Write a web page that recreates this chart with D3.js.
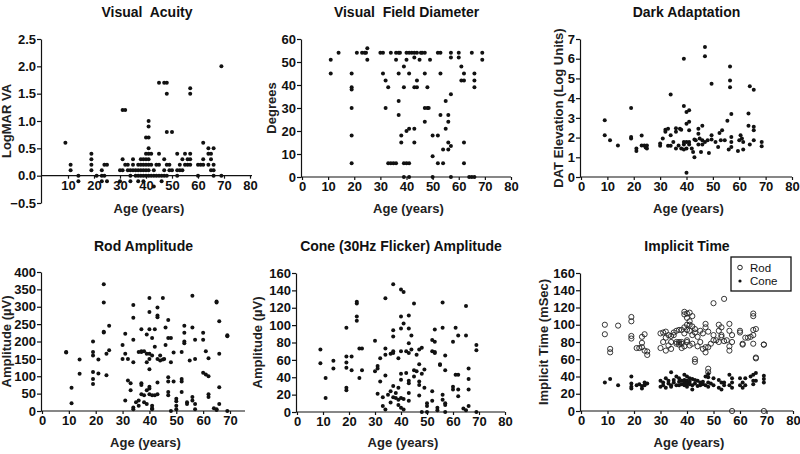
<!DOCTYPE html>
<html>
<head>
<meta charset="utf-8">
<script src="https://cdn.jsdelivr.net/npm/d3@7"></script>
<style>
  body { margin: 0; background: #fff; }
  svg { font-family: "Liberation Sans", Arial, sans-serif; }
  .tick text { font-size: 13px; font-weight: bold; fill: #111; }
  .domain, .tick line { stroke: #111; stroke-width: 1.2; }
  .title { font-size: 14px; font-weight: bold; fill: #111; white-space: pre; }
  .alabel { font-size: 13px; font-weight: bold; fill: #222; white-space: pre; }
</style>
</head>
<body>
<svg id="chart" width="800" height="454"></svg>
<script>
// --- data: [age, value] ---
var vaData = [[9,0.6],[11,0.2],[11,0.1],[14,0],[14,-0.1],
  [19,0.4],[19,0.3],[19,0.2],[19,0.1],[21,0],[23,0.1],[23,0],[23,-0.1],[24,0.2],[25,0.2],[25,-0.1],[24,0],
  [30,0.1],[30,-0.1],[31,0.3],[31,0.1],[31,1.2],[32,1.2],[32,0.2],[33,0.2],[33,0.1],[34,0.1],[34,0],[34,-0.1],
  [35,0.3],[35,0.2],[35,0.1],[36,0.1],[36,0],[37,0.2],[37,0.1],[37,0],[37,-0.1],[38,0.3],[38,0.2],[38,0.1],[38,0],
  [39,0.3],[39,0.2],[39,0.1],[39,0],[39,-0.1],[40,0.7],[40,0.4],[40,0.3],[40,0.2],[40,0.1],[40,0],
  [41,1.0],[41,0.9],[41,0.7],[41,0.5],[41,0.4],[41,0.3],[41,0.2],[41,0.1],[41,0],[42,0.4],[42,0.2],[42,0],
  [43,-0.2],[43,0],[43,0.1],[44,0.2],[44,0],[45,0.4],[45,1.7],[45,0.2],[45,0],[46,0],[46,-0.1],[47,1.7],[47,0.3],[47,0.1],[47,0],
  [48,1.7],[48,1.5],[48,0.8],[48,0.2],[48,0],[49,0.1],[49,0.2],[50,0.8],[50,0.1],[52,0.4],[52,0.1],[52,0],
  [53,0.1],[53,0.2],[54,0.3],[54,0.1],[55,0.4],[55,0.2],[56,0.3],[56,0.2],[57,1.6],[57,1.5],[57,0.4],[57,0.3],[57,0.2],
  [60,0.2],[60,0],[61,0.2],[62,0.6],[62,0.3],[62,0.2],[64,0.4],[64,0.5],[64,0.2],[65,0.4],[65,0.1],[65,0.3],
  [66,0.5],[66,0.2],[66,0.1],[66,0],[69,2.0],[69,0]];

var vfData = [[11,51],[11,45],[14,54],[19,45],[19,39],[19,38],[19,30],[19,18],[19,6],[21,54],[23,54],[24,54],[24.5,54],
  [25,56],[25,51],[30,54],[31,54],[31,45],[32,42],[32,30],[33,39],[33,6],[34,6],[34,54],[35,6],[36,51],[36,54],[36,6],
  [37,54],[37.5,54],[37,45],[37,33],[37,27],[38,18],[38,15],[39,48],[39,39],[39,6],[39,0],[40,54],[40,51],[40,20],[40,6],
  [41,54],[41,45],[41,21],[41,6],[41,0],[42,54],[43,54],[43,52],[43,39],[43,21],[43,15],[44,54],[44,42],[44,39],
  [45,51],[45.5,54],[46,54],[47,54],[47,45],[47,30],[47,24],[48,30],[48,39],[48.5,30],[49,51],[50,18],[50,9],[50,0],
  [52,18],[52,6],[52,54],[53,54],[53,45],[53,27],[54,12],[54,6],[55,33],[55,21],[56,12],[56,15],[56,27],[56,24],
  [57,13.5],[57,36],[57,54],[57,52],[57,0],[60,54],[60,52],[61,48],[61,42],[62,42],[62,45],[62,15],[62,6],
  [64,0],[65,0],[66,0],[65,54],[66,45],[66,42],[66,39],[69,54],[69,51]];

var daData = [[9,2.88],[9,2.12],[11,1.86],[14,1.6],[19,3.5],[19,2.03],[19,1.95],[23,2.1],[21,1.44],[21,1.32],
  [23,1.6],[24,1.6],[24.5,1.5],[25,1.6],[25,1.45],[30,1.7],[30,1.58],[31,1.95],[32,2.4],[32,2.3],[33,2.45],[33,1.58],
  [34,4.18],[34,2.12],[34,1.58],[35,1.78],[36,2.47],[36,2.3],[36,1.44],[37,1.6],[37.5,2.45],[38,2.4],[38,1.44],
  [39,6.0],[39,3.6],[39,1.65],[39,1.78],[39,1.4],[40,3.3],[40,2.7],[40,0.22],[40,1.44],[40,1.78],[41,3.38],[41,2.8],
  [41,1.65],[41,1.78],[41,2.37],[42,1.44],[42.5,1.27],[43,1.0],[43,1.9],[43.5,1.86],[44.5,2.45],[44.5,2.2],[44.5,1.65],
  [45,1.95],[45.5,1.27],[46,2.6],[46,1.86],[46,1.65],[47,6.6],[47,6.13],[47,1.78],[48,1.86],[48.5,1.22],[49.5,4.73],
  [49.5,2.12],[49.5,1.9],[51,1.78],[52,1.52],[52.5,2.23],[53,1.86],[53.5,2.37],[54.5,1.86],[55.5,2.85],[56,1.4],
  [56.5,5.6],[56.5,4.9],[56.5,4.55],[57,3.2],[57,2.03],[57,1.78],[57,1.52],[59.5,1.32],[60,1.86],[60.5,2.12],[61,1.95],
  [61.5,1.78],[61.5,1.4],[63.5,3.22],[63.5,2.6],[64,4.6],[64,1.65],[65.5,4.42],[65.5,2.55],[65.5,2.37],[65.5,1.86],
  [68.5,1.78],[68.5,1.56]];

var rodAmpData = [[9,170],[9,168],[11,67],[11,22],[14,148],[14,107],[19,200],[19,170],[19,160],[19,112],[19,92],[19,78],
  [21,148],[21,108],[23,365],[23,312],[23,228],[23,226],[24,165],[24,103],[25,245],[25,175],[30,190],[30,150],[31,222],
  [31,165],[31,30],[32,150],[32,88],[33,80],[33,60],[34,305],[34,268],[34,205],[34,140],[34,10],[34,5],[35,25],[36,30],
  [36,170],[36,15],[37,172],[37,170],[37,235],[37,80],[37,75],[37,48],[38,172],[38,45],[38,25],[39,220],[39,165],[39,140],
  [39,60],[39,20],[40,325],[40,285],[40,235],[40,165],[40,150],[40,120],[40,70],[40,65],[40,48],[41,210],[41,160],[41,45],
  [41,15],[41,8],[41,5],[42,235],[42,185],[42,45],[43,298],[43,275],[43,270],[43,150],[43,82],[43,48],[44,160],[44,145],
  [45,325],[45,148],[45.5,150],[46,240],[46,190],[47,262],[47,210],[47,97],[47,85],[47,55],[47,45],[48,210],[48,140],
  [48,0],[49,168],[49,85],[50,35],[50,28],[50,15],[50,5],[52,170],[52,92],[52,85],[52,55],[53,245],[53,225],[53,200],
  [53,195],[54,25],[54,20],[55,145],[56,332],[56,240],[56,40],[56,30],[57,205],[57,150],[57,20],[57,5],[60,225],[60,205],
  [60,110],[61,172],[61,105],[62,100],[62,152],[62,48],[62,40],[64,8],[65,315],[65,312],[65,5],[65,3],[66,258],[66,165],
  [66,68],[66,20],[69,218],[69,215],[69,0]];

var coneAmpData = [[9,72],[9,56],[11,39],[11,16],[14,59],[14,50],[19,97],[19,64],[19,57],[19,51],[19,28],[19,25],[21,64],
  [21,48],[23,127],[23,125],[23,110],[23,105],[24,73],[24,39],[25,73],[25,48],[30,82],[30,47],[31,53],[31,50],[31,21],
  [32,62],[32,35],[33,17],[33,7],[34,131],[34,73],[34,66],[34,42],[34,3],[35,20],[36,24],[36,67],[36,11],[37,147],[37,94],
  [37,87],[37,70],[37,68],[37,30],[37,17],[38,22],[38,16],[39,62],[39,28],[39,14],[39,8],[40,141],[40,110],[40,96],[40,70],
  [40,44],[40,37],[40,16],[40,5],[41,138],[41,102],[41,15],[41,3],[42,45],[42,70],[43,111],[43,96],[43,79],[43,68],[43,36],
  [43,33],[43,22],[43,13],[44,88],[44,72],[45,125],[45,48],[45,41],[46,47],[46,66],[47,72],[47,55],[47,35],[47,31],[47,19],
  [48,74],[48,44],[48,0],[49,49],[49,28],[50,10],[50,7],[50,0],[52,83],[52,70],[52,24],[52,13],[53,95],[53,81],[53,69],
  [53,68],[54,5],[54,2],[55,55],[55,54],[56,126],[56,97],[56,20],[56,14],[57,65],[57,48],[57,10],[57,8],[57,0],[60,81],
  [60,29],[60,26],[61,97],[61,43],[62,88],[62,43],[62,26],[62,18],[64,4],[65,122],[65,88],[65,2],[66,50],[66,38],[66,26],
  [66,7],[69,77],[69,71],[69,0]];

var rodTimeData = [[9,100],[9,89],[11,72],[11,68],[14,99],[19,109],[19,104],[19,87],[19,84],[21,73],[22,73],[23,79],[23,74],
  [23,86],[24,89],[24,70],[25,69],[25,65],[30,90],[30,73],[31,91],[31,80],[32,92],[32,70],[32,85],[33,88],[33,76],[34,87],
  [34,72],[34,80],[35,88],[35,91],[36,93],[36,78],[36,80],[37,94],[37,80],[37,77],[38,94],[38,80],[38,78],[38,73],[39,115],
  [39,112],[39,97],[39,90],[39,75],[40,113],[40,108],[40,100],[40,94],[40,82],[40,80],[41,114],[41,104],[41,100],[41,93],
  [41,76],[42,110],[42,98],[42,88],[42,78],[43,95],[43,91],[43,60],[43,57],[44,86],[44,75],[45,93],[45,80],[46,90],[46,72],
  [47,101],[47,97],[47,74],[47,68],[48,92],[48,74],[48,49],[48,45],[49,78],[50,125],[50,88],[50,82],[51,82],[52,93],
  [52,100],[52,80],[53,97],[53,88],[53,86],[54,130],[54,81],[55,82],[56,101],[56,93],[56,75],[56,70],[57,88],[57,80],
  [57,0],[60,93],[60,91],[61,78],[61,77],[62,85],[63,85],[64,86],[65,113],[65,110],[65,94],[65,88],[65,78],[66,95],
  [66,62],[66,61],[69,77],[69,77],[69,0]];

var coneTimeData = [[9,33],[11,37],[14,30],[19,40],[19,32],[19,28],[19,26],[21,30],[22,31],[23,29],[23,26],[24,33],[24,30],
  [25,32],[30,35],[30,28],[31,30],[31,33],[32,38],[32,27],[33,32],[33,35],[34,45],[34,30],[34,28],[35,36],[35,33],[36,40],
  [36,30],[37,38],[37,34],[37,30],[38,35],[38,31],[39,42],[39,36],[39,33],[39,30],[40,40],[40,35],[40,32],[40,28],[41,38],
  [41,34],[41,31],[42,37],[42,25],[42,30],[43,36],[43,32],[44,29],[44,35],[45,33],[45,30],[46,31],[46,34],[47,40],[47,30],
  [48,43],[48,39],[48,33],[48,28],[49,32],[50,38],[50,30],[52,36],[52,27],[53,33],[53,25],[54,33],[54,30],[56,42],[56,30],
  [57,38],[57,33],[57,27],[60,38],[60,30],[61,33],[61,27],[62,38],[62,30],[64,40],[65,42],[65,35],[65,31],[66,44],[66,35],
  [69,41],[69,37],[69,33]];

var titles = ["Visual  Acuity", "Visual  Field Diameter", "Dark Adaptation", "Rod Amplitude", "Cone (30Hz Flicker) Amplitude", "Implicit Time"];
var yLabels = ["LogMAR VA", "Degrees", "DAT Elevation (Log Units)", "Amplitude (\u00b5V)", "Amplitude (\u00b5V)", "Implicit Time (mSec)"];
var legendLabels = ["Rod", "Cone"];

var svg = d3.select("#chart");

// layout of each panel (pixels)
var panels = [
  { x0: 42, x1: 250, yTop: 39, yBot: 203, yDom: [-0.5, 2.5], yTicks: [-0.5,0,0.5,1,1.5,2,2.5], fmt: d3.format(".1f"),
    xDom: [0,80], xTicks: [10,20,30,40,50,60,70,80], xEnd: 252, series: [vaData], titleY: 17, lx: 11, ageY: 213 },
  { x0: 302, x1: 511, yTop: 39, yBot: 177, yDom: [0,60], yTicks: d3.range(0,61,10), fmt: d3.format("d"),
    xDom: [0,80], xTicks: d3.range(0,81,10), xEnd: 511, series: [vfData], titleY: 17, lx: 276, ageY: 213 },
  { x0: 581, x1: 792, yTop: 39, yBot: 177, yDom: [0,7], yTicks: d3.range(0,8), fmt: d3.format("d"),
    xDom: [0,80], xTicks: d3.range(0,81,10), xEnd: 792, series: [daData], titleY: 17, lx: 563, ageY: 213 },
  { x0: 42, x1: 230, yTop: 272, yBot: 411, yDom: [0,400], yTicks: d3.range(0,401,50), fmt: d3.format("d"),
    xDom: [0,70], xTicks: d3.range(0,71,10), xEnd: 245, series: [rodAmpData], titleY: 251, lx: 11, ageY: 447 },
  { x0: 297, x1: 505, yTop: 273, yBot: 412, yDom: [0,160], yTicks: d3.range(0,161,20), fmt: d3.format("d"),
    xDom: [0,80], xTicks: d3.range(0,81,10), xEnd: 505, series: [coneAmpData], titleY: 251, lx: 262, ageY: 447 },
  { x0: 581, x1: 793, yTop: 273, yBot: 411, yDom: [0,160], yTicks: d3.range(0,161,20), fmt: d3.format("d"),
    xDom: [0,80], xTicks: d3.range(0,81,10), xEnd: 793, series: [rodTimeData, coneTimeData], open: [true,false],
    titleY: 251, lx: 548, ageY: 447, legend: true }
];

panels.forEach(function(p, i) {
  var g = svg.append("g");
  var x = d3.scaleLinear().domain(p.xDom).range([p.x0, p.x1]);
  var y = d3.scaleLinear().domain(p.yDom).range([p.yBot, p.yTop]);

  // y axis
  g.append("g")
    .attr("transform", "translate(" + (p.x0 - 1) + ",0)")
    .call(d3.axisLeft(y).tickValues(p.yTicks).tickFormat(p.fmt).tickSize(4).tickSizeOuter(0).tickPadding(1));

  // x axis, sits at value 0
  var xa = g.append("g")
    .attr("transform", "translate(0," + y(0) + ")")
    .call(d3.axisBottom(x).tickValues(p.xTicks).tickSize(3).tickSizeOuter(0).tickPadding(2));
  xa.select(".domain").attr("d", "M" + (p.x0 - 1) + ",0H" + p.xEnd);

  // points
  p.series.forEach(function(data, si) {
    var open = p.open && p.open[si];
    g.append("g").selectAll("circle")
      .data(data)
      .enter().append("circle")
      .attr("cx", function(d) { return x(d[0]); })
      .attr("cy", function(d) { return y(d[1]); })
      .attr("r", open ? 2.6 : 2)
      .attr("fill", open ? "none" : "#111")
      .attr("stroke", open ? "#222" : "none")
      .attr("stroke-width", 0.9);
  });

  // titles and labels
  g.append("text").attr("class", "title")
    .attr("x", (p.x0 + p.xEnd) / 2).attr("y", p.titleY).attr("text-anchor", "middle")
    .text(titles[i]);
  g.append("text").attr("class", "alabel")
    .attr("x", (p.x0 + p.xEnd) / 2 + 2).attr("y", p.ageY)
    .attr("text-anchor", "middle")
    .text("Age (years)");
  g.append("text").attr("class", "alabel")
    .attr("transform", "translate(" + p.lx + "," + ((p.yTop + p.yBot) / 2) + ") rotate(-90)")
    .attr("text-anchor", "middle")
    .text(yLabels[i]);

  if (p.legend) {
    var lg = g.append("g").attr("transform", "translate(731,257)");
    lg.append("rect").attr("width", 60).attr("height", 34)
      .attr("fill", "#fff").attr("stroke", "#111").attr("stroke-width", 1.3);
    legendLabels.forEach(function(t, k) {
      lg.append("circle").attr("cx", 9).attr("cy", 10.5 + k * 13.5)
        .attr("r", k == 0 ? 2.3 : 1.6)
        .attr("fill", k == 0 ? "none" : "#111").attr("stroke", k == 0 ? "#222" : "none");
      lg.append("text").attr("x", 19).attr("y", 14.5 + k * 13.5)
        .style("font-size", "11.5px").attr("fill", "#111").text(t);
    });
  }
});
</script>
</body>
</html>
